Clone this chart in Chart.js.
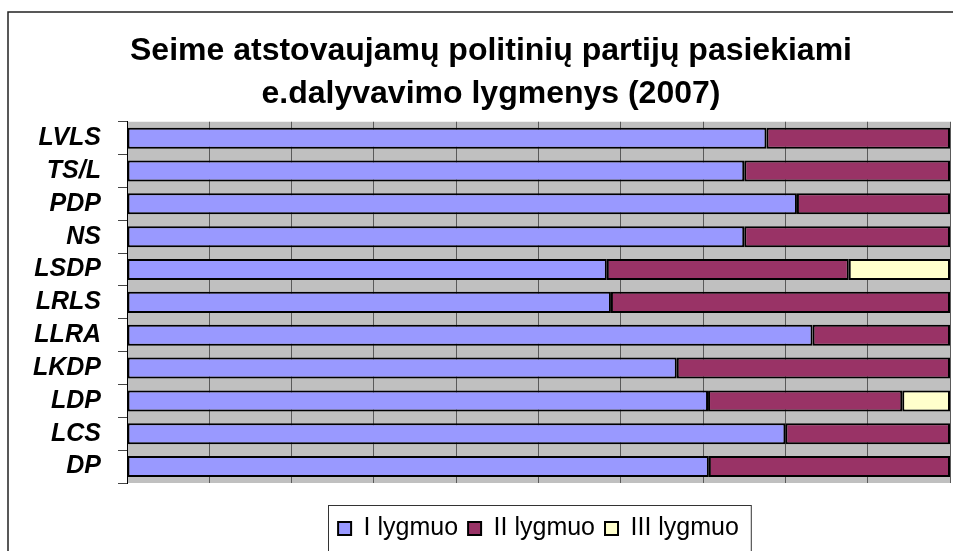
<!DOCTYPE html>
<html>
<head>
<meta charset="utf-8">
<script src="https://cdn.jsdelivr.net/npm/chart.js@4"></script>
<style>
  html, body { margin: 0; padding: 0; background: #fff; }
  #wrap { width: 953px; height: 551px; }
</style>
</head>
<body>
<div id="wrap"><canvas id="myChart" width="953" height="551"></canvas></div>
<script>
// parties (top to bottom) and the share of each level, %
var parties = ["LVLS", "TS/L", "PDP", "NS", "LSDP", "LRLS", "LLRA", "LKDP", "LDP", "LCS", "DP"];
var level1 = [77.7, 75.0, 81.4, 75.0, 58.3, 58.8, 83.3, 66.8, 70.6, 80.0, 70.7];
var level2 = [22.3, 25.0, 18.6, 25.0, 29.4, 41.2, 16.7, 33.2, 23.6, 20.0, 29.3];
var level3 = [0, 0, 0, 0, 12.3, 0, 0, 0, 5.8, 0, 0];
var levelNames = ["I lygmuo", "II lygmuo", "III lygmuo"];

var fontFamily = "'Liberation Sans', Arial, sans-serif";

// grey plot background + outer frame + legend frame
var excelLook = {
    id: 'excelLook',
    beforeDraw: function(chart) {
        var c = chart.ctx, a = chart.chartArea;
        c.save();
        c.fillStyle = '#C0C0C0';
        c.fillRect(a.left, a.top, a.right - a.left, a.bottom - a.top);
        c.restore();
    },
    afterDraw: function(chart) {
        var c = chart.ctx;
        c.save();
        c.strokeStyle = '#222';
        c.lineWidth = 1.5;
        c.strokeRect(8, 12, 1000, 600);
        var lg = chart.legend;
        if (lg && lg.legendHitBoxes && lg.legendHitBoxes.length) {
            var hb = lg.legendHitBoxes;
            var x0 = hb[0].left - 10;
            var last = hb[hb.length - 1];
            var x1 = last.left + last.width + 12;
            c.lineWidth = 1;
            c.strokeStyle = '#333';
            c.strokeRect(Math.round(x0) + 0.5, Math.round(lg.top) - 0.5, x1 - x0, 100);
        }
        c.restore();
    }
};

var ctx = document.getElementById('myChart').getContext('2d');
var chart = new Chart(ctx, {
    type: 'bar',
    data: {
        labels: parties,
        datasets: [{
            label: levelNames[0],
            data: level1,
            backgroundColor: '#9999FF'
        }, {
            label: levelNames[1],
            data: level2,
            backgroundColor: '#993366'
        }, {
            label: levelNames[2],
            data: level3,
            backgroundColor: '#FFFFCC'
        }]
    },
    options: {
        indexAxis: 'y',
        responsive: false,
        animation: false,
        devicePixelRatio: 1,
        layout: { padding: { left: 32, right: 3, top: 0, bottom: 0 } },
        datasets: {
            bar: {
                borderColor: '#000',
                borderWidth: 2,
                borderSkipped: false,
                barPercentage: 0.64,
                categoryPercentage: 1
            }
        },
        scales: {
            x: {
                stacked: true,
                min: 0,
                max: 100,
                ticks: { display: false, stepSize: 10 },
                grid: { color: '#5a5a5a', lineWidth: 1, drawTicks: false },
                border: { display: false },
                afterFit: function(s) { s.height = 23; }
            },
            y: {
                stacked: true,
                ticks: {
                    color: '#000',
                    padding: 17,
                    autoSkip: false,
                    font: { family: fontFamily, size: 25, weight: 'bold', style: 'italic' }
                },
                grid: { drawOnChartArea: false, tickLength: 9, color: '#444' },
                border: { display: true, color: '#000', width: 1 },
                afterFit: function(s) { s.width = 95; }
            }
        },
        plugins: {
            title: {
                display: true,
                text: ["Seime atstovaujamų politinių partijų pasiekiami", "e.dalyvavimo lygmenys (2007)"],
                color: '#000',
                font: { family: fontFamily, size: 32, weight: 'bold', lineHeight: 1.34 },
                padding: { top: 30, bottom: 6 }
            },
            legend: {
                position: 'bottom',
                fullSize: false,
                labels: {
                    color: '#000',
                    boxWidth: 13,
                    boxHeight: 13,
                    padding: 10,
                    font: { family: fontFamily, size: 25 }
                }
            },
            tooltip: { enabled: false }
        }
    },
    plugins: [excelLook]
});
</script>
</body>
</html>
